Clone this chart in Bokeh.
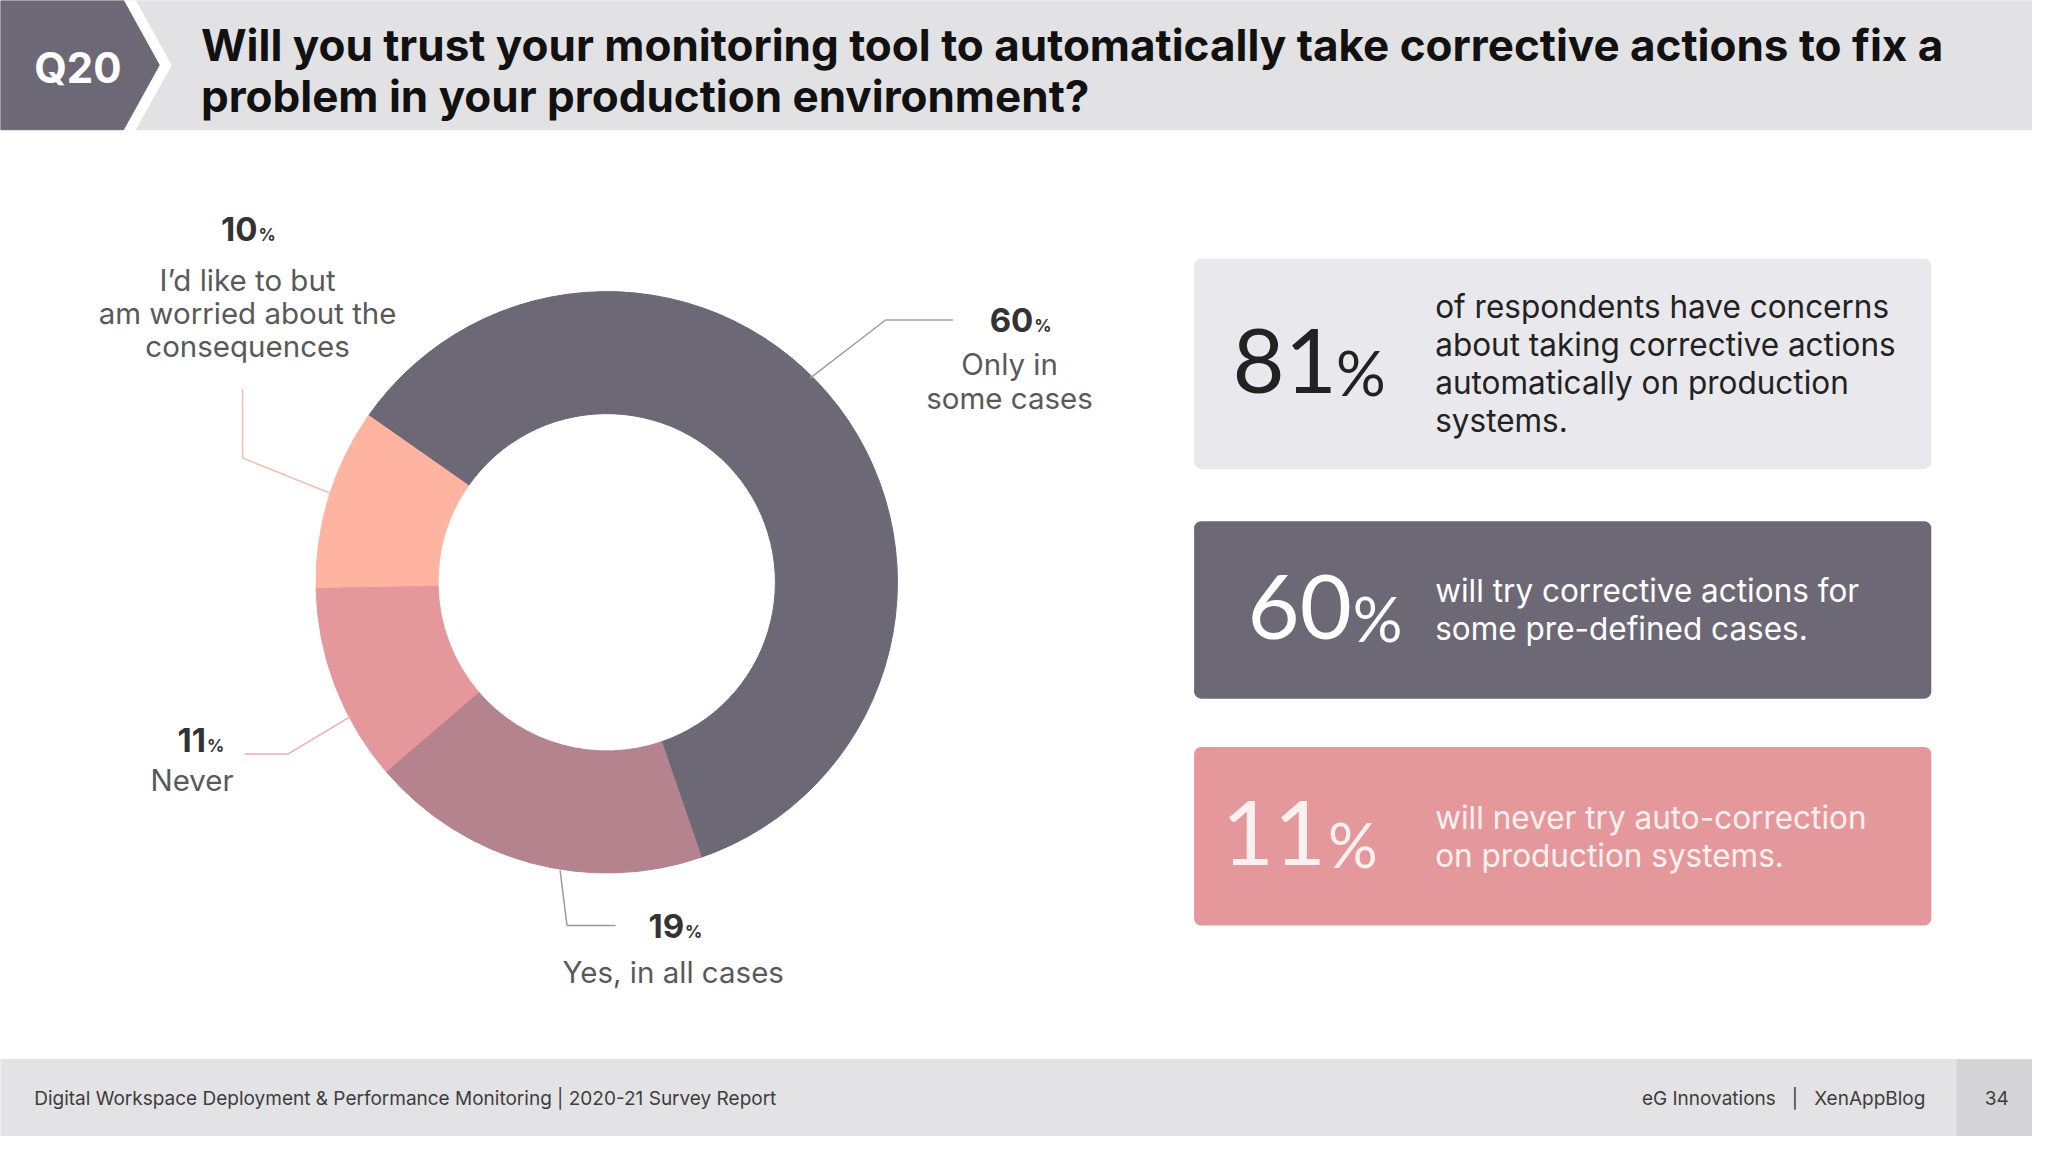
import numpy as np
from bokeh.plotting import figure
from bokeh.models import Range1d, BoxAnnotation
from bokeh.core.properties import value
from bokeh.embed import file_html
from bokeh.resources import INLINE

# ---------------- data ----------------
question_id = "Q20"
title_lines = ["Will you trust your monitoring tool to automatically take corrective actions to fix a",
               "problem in your production environment?"]
categories = ["Only in some cases", "Yes, in all cases", "Never",
              "I\u2019d like to but am worried about the consequences"]
shares = [60, 19, 11, 10]
slice_colors = ["#6d6875", "#b5838d", "#e5989b", "#ffb4a2"]
label_lines = [["Only in", "some cases"], ["Yes, in all cases"], ["Never"],
               ["I\u2019d like to but", "am worried about the", "consequences"]]
leader_colors = ["#a09ca4", "#9c9c9c", "#e9aeb0", "#f3bfb2"]

stat_values = [81, 60, 11]
stat_texts = [["of respondents have concerns", "about taking corrective actions",
               "automatically on production", "systems."],
              ["will try corrective actions for", "some pre-defined cases."],
              ["will never try auto-correction", "on production systems."]]
stat_fill = ["#e9e8ec", "#6d6875", "#e5989b"]
stat_ink = ["#222222", "#ffffff", "#fdf1f0"]

footer_left = "Digital Workspace Deployment & Performance Monitoring | 2020-21 Survey Report"
footer_right = "eG Innovations\u00a0\u00a0\u00a0|\u00a0\u00a0\u00a0XenAppBlog"
page_no = "34"

INTER = value("Inter")
LATO = value("Lato")


def Y(sy):
    return 1152 - np.asarray(sy, dtype=float)


p = figure(width=2032, height=1136, x_range=Range1d(0, 2048), y_range=Range1d(0, 1152),
           output_backend="svg", toolbar_location=None, min_border=0)
p.axis.visible = False
p.grid.visible = False
p.outline_line_color = None
p.background_fill_color = "white"
p.border_fill_color = "white"

# ---------------- header ----------------
p.quad(left=0, right=2048, top=Y(0), bottom=Y(131), color="#e2e1e3")
p.patch(x=[0, 136, 172, 136, 0], y=Y([0, 0, 65.5, 131, 131]), color="white")
p.patch(x=[0, 124, 160, 124, 0], y=Y([0, 0, 65.5, 131, 131]), color="#6d6875")
p.text(x=[78], y=Y([68]), text=[question_id], text_align="center", text_baseline="middle",
       text_font=INTER, text_font_style="bold", text_font_size="42px", text_color="white")
p.text(x=[202, 202], y=Y([45, 97]), text=title_lines, text_align="left", text_baseline="middle",
       text_font=INTER, text_font_style="bold", text_font_size="44px", text_color="#111111")

# ---------------- donut ----------------
cx, cy = 611, float(Y(590))
cum = np.cumsum([0] + shares)
start = np.radians(145 - 3.6 * cum[:-1])
end = np.radians(145 - 3.6 * cum[1:])
p.annular_wedge(x=cx, y=cy, inner_radius=170, outer_radius=293, start_angle=start, end_angle=end,
                direction="clock", fill_color=slice_colors, line_color=slice_colors)

# leader lines (layout, in page px)
leader_x = [[960, 892, 816], [564, 571, 620], [246, 290, 353], [244, 244, 333]]
leader_y = [[324, 324, 383], [882, 938, 938], [764, 764, 726], [394, 464, 500]]
p.multi_line(xs=leader_x, ys=[list(Y(v)) for v in leader_y], line_color=leader_colors, line_width=1.5)

# label layout
num_right = [1041, 689, 207, 259]
num_cy = [324.5, 939, 750, 231.5]
txt_cx = [1017, 678, 193, 249]
txt_y = [[369, 403], [985], [790], [283, 317, 350]]
NUM_S, PCT_S = 33, 17
for i in range(len(shares)):
    base = num_cy[i] + 0.364 * NUM_S
    p.text(x=[num_right[i]], y=Y([num_cy[i]]), text=[str(shares[i])], text_align="right",
           text_baseline="middle", text_font=INTER, text_font_style="bold",
           text_font_size=f"{NUM_S}px", text_color="#333333")
    p.text(x=[num_right[i] + 1], y=Y([base - 0.364 * PCT_S]), text=["%"], text_align="left",
           text_baseline="middle", text_font=INTER, text_font_style="bold",
           text_font_size=f"{PCT_S}px", text_color="#333333")
    n = len(label_lines[i])
    p.text(x=[txt_cx[i]] * n, y=Y(txt_y[i]), text=label_lines[i], text_align="center",
           text_baseline="middle", text_font=INTER, text_font_size="29.5px", text_color="#595959")

# ---------------- stat boxes ----------------
box_top = [262, 528, 757]
box_bot = [475, 708, 938]
big_right = [1347, 1362, 1336]
pct_left = [1346, 1363, 1338]
BIG_S, BIGP_S = 90, 62
for i in range(3):
    p.add_layout(BoxAnnotation(left=1203, right=1946, top=float(Y(box_top[i])), bottom=float(Y(box_bot[i])),
                               fill_color=stat_fill[i], fill_alpha=1.0, line_color=None,
                               border_radius=7, level="underlay"))
    mid = (box_top[i] + box_bot[i]) / 2
    base = mid + 32
    p.text(x=[big_right[i]], y=Y([base - 0.387 * BIG_S]), text=[str(stat_values[i])], text_align="right",
           text_baseline="middle", text_font=LATO, text_font_size=f"{BIG_S}px", text_color=stat_ink[i])
    p.text(x=[pct_left[i]], y=Y([base - 0.387 * BIGP_S]), text=["%"], text_align="left",
           text_baseline="middle", text_font=LATO, text_font_size=f"{BIGP_S}px", text_color=stat_ink[i])
    n = len(stat_texts[i])
    ys = [mid + (k - (n - 1) / 2) * 38.5 for k in range(n)]
    p.text(x=[1446] * n, y=Y(ys), text=stat_texts[i], text_align="left", text_baseline="middle",
           text_font=INTER, text_font_size="31.5px", text_color=stat_ink[i])

# ---------------- footer ----------------
p.quad(left=0, right=2048, top=Y(1074), bottom=Y(1152), color="#e3e3e5")
p.quad(left=1972, right=2048, top=Y(1074), bottom=Y(1152), color="#d5d5d7")
p.text(x=[34], y=Y([1113]), text=[footer_left], text_align="left", text_baseline="middle",
       text_font=INTER, text_font_size="19px", text_color="#3d3d3d")
p.text(x=[1940], y=Y([1113]), text=[footer_right], text_align="right", text_baseline="middle",
       text_font=INTER, text_font_size="19px", text_color="#3d3d3d")
p.text(x=[2012], y=Y([1113]), text=[page_no], text_align="center", text_baseline="middle",
       text_font=INTER, text_font_size="19px", text_color="#3d3d3d")

open("out.html", "w").write(file_html(p, INLINE))
